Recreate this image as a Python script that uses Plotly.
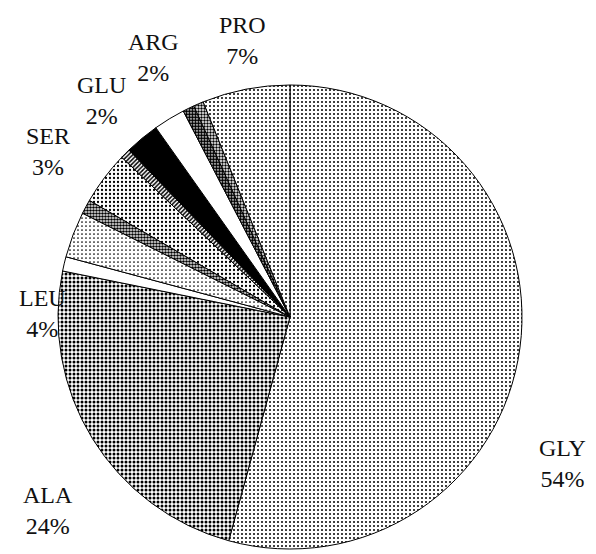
import plotly.graph_objects as go

# slices clockwise from 12 o'clock (unlabelled slivers have empty names)
names = ["GLY", "ALA", "", "LEU", "", "SER", "", "GLU", "ARG", "", "", "PRO"]
shares = [54.2, 23.9, 1.0, 3.2, 1.0, 3.7, 0.7, 2.4, 2.2, 0.8, 0.7, 6.1]
label_pct = {"GLY": "54%", "ALA": "24%", "LEU": "4%", "SER": "3%",
             "GLU": "2%", "ARG": "2%", "PRO": "7%"}

# halftone-ish fills
shapes    = [".", ".", "", ".", ".", ".", "/", "", "", ".", ".", "."]
sizes     = [4, 4, 4, 4, 3, 4, 3, 4, 4, 3, 3, 4]
solidity  = [0.2, 0.45, 0.1, 0.15, 0.6, 0.25, 0.5, 0.1, 0.1, 0.75, 0.5, 0.2]
bgcolors  = ["white", "white", "white", "white", "white", "white", "white",
             "black", "white", "white", "white", "white"]

OFF = 8  # page body margin in the browser

def px_x(v):
    return (v - OFF) / 596

def px_y(v):
    return 1 - (v - OFF) / 554

fig = go.Figure(go.Pie(
    labels=[n if n else f"_{i}" for i, n in enumerate(names)],
    values=shares,
    sort=False, direction="clockwise", rotation=0,
    textinfo="none", hoverinfo="label+percent",
    marker=dict(
        colors=bgcolors,
        line=dict(color="black", width=1),
        pattern=dict(shape=shapes, size=sizes, solidity=solidity,
                     fgcolor="black", bgcolor=bgcolors, fillmode="replace"),
    ),
    domain=dict(x=[px_x(58), px_x(522)], y=[px_y(549), px_y(85)]),
    showlegend=False,
))

# label spots in pixels (centre of the two-line label)
label_xy = {"PRO": (242, 41), "ARG": (153, 58), "GLU": (101, 101),
            "SER": (48, 151), "LEU": (42, 313), "ALA": (48, 510),
            "GLY": (562, 463)}

for n, (px, py) in label_xy.items():
    fig.add_annotation(
        x=px_x(px), y=px_y(py), xref="paper", yref="paper",
        xanchor="center", yanchor="middle",
        text=f"{n}<br>{label_pct[n]}", showarrow=False,
        font=dict(family="Liberation Serif, serif", size=24, color="#111"),
        align="center",
    )

fig.update_layout(
    width=596, height=554,
    margin=dict(l=0, r=0, t=0, b=0),
    paper_bgcolor="white", plot_bgcolor="white",
)

fig.write_html("out.html")
